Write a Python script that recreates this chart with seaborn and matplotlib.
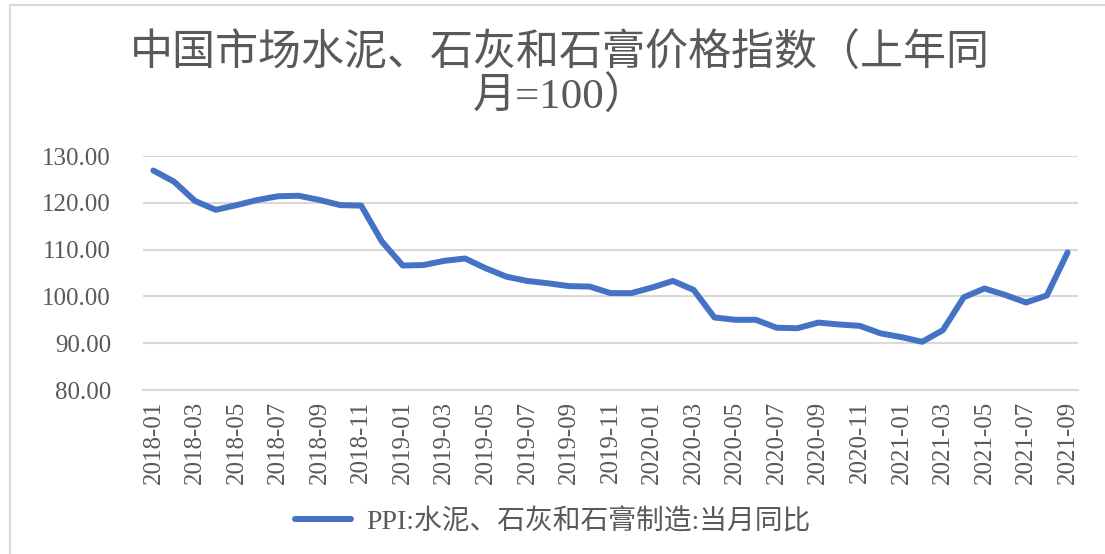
import numpy as np
import pandas as pd
import matplotlib
matplotlib.use('Agg')
import matplotlib.pyplot as plt
import seaborn as sns
from matplotlib.patches import Rectangle
from matplotlib.ticker import FixedLocator, FormatStrFormatter

# --- Data ---
months = [d.strftime('%Y-%m') for d in pd.date_range('2018-01-01', '2021-09-01', freq='MS')]
values = [
    126.9, 124.5, 120.4, 118.5, 119.5, 120.6, 121.4, 121.5, 120.6, 119.5, 119.4, 111.7,  # 2018
    106.6, 106.7, 107.6, 108.1, 106.0, 104.2, 103.3, 102.8, 102.2, 102.1, 100.7, 100.7,  # 2019
    101.9, 103.3, 101.4, 95.5, 95.0, 95.0, 93.3, 93.2, 94.4, 94.0, 93.7, 92.1,            # 2020
    91.3, 90.3, 92.8, 99.8, 101.7, 100.3, 98.7, 100.2, 109.4,                              # 2021
]
series_name = 'PPI:水泥、石灰和石膏制造:当月同比'
title = '中国市场水泥、石灰和石膏价格指数（上年同\n月=100）'
y_ticks = [80, 90, 100, 110, 120, 130]

df = pd.DataFrame({'pos': np.arange(len(months)), 'value': values})

# --- Style ---
sns.set_style('white')
plt.rcParams['font.family'] = ['Liberation Serif', 'Noto Sans CJK SC', 'DejaVu Sans']
text_color = '#595959'
grid_color = '#d9d9d9'
line_color = '#4472C4'

fig = plt.figure(figsize=(11.05, 5.54), dpi=100)
ax = fig.add_axes([143 / 1105, 1 - 390 / 554, (1078 - 143) / 1105, (390 - 156) / 554])

sns.lineplot(data=df, x='pos', y='value', ax=ax, color=line_color, linewidth=4.3,
             label=series_name, legend=False, solid_capstyle='round', solid_joinstyle='round')

ax.set_xlim(-0.5, len(months) - 0.5)
ax.set_ylim(80, 130)
ax.set_xlabel('')
ax.set_ylabel('')

# y axis
ax.set_yticks(y_ticks)
ax.yaxis.set_major_formatter(FormatStrFormatter('%.2f'))
ax.tick_params(axis='y', length=0, pad=23, labelsize=18, labelcolor=text_color)
ax.grid(axis='y', color=grid_color, linewidth=1.5)
ax.set_axisbelow(True)

# x axis: labels every 2 months, tick marks between categories
ax.set_xticks(np.arange(0, len(months), 2))
ax.set_xticklabels(months[::2], rotation=90, ha='center', va='top')
ax.xaxis.set_minor_locator(FixedLocator(np.arange(-0.5, len(months) - 1, 2)))
ax.tick_params(axis='x', which='major', length=0, pad=8, labelsize=18, labelcolor=text_color)
ax.tick_params(axis='x', which='minor', length=6, width=1.5, color=grid_color, direction='out')

for side in ['top', 'right', 'left']:
    ax.spines[side].set_visible(False)
ax.spines['bottom'].set_color(grid_color)
ax.spines['bottom'].set_linewidth(1.5)

# title
fig.text(0.507, 1 - 76 / 554, title, ha='center', va='center', fontsize=31,
         color=text_color, linespacing=1.05,
         family=['Liberation Serif', 'Noto Sans CJK SC', 'DejaVu Sans'])

# legend
handles, labels = ax.get_legend_handles_labels()
leg = fig.legend(handles, labels, loc='center', bbox_to_anchor=(0.5, 1 - 522 / 554),
                 frameon=False, handlelength=2.0, handletextpad=0.55,
                 prop={'family': ['Liberation Serif', 'Noto Sans CJK SC'], 'size': 20})
for t in leg.get_texts():
    t.set_color(text_color)

# chart-area border (left and top visible in the reference)
fig.patches.append(Rectangle((10 / 1105, -0.1), 1.2, 1.1 - 5 / 554, transform=fig.transFigure,
                             fill=False, edgecolor=grid_color, linewidth=1.5, clip_on=False))

fig.savefig('out.png', dpi=100)
